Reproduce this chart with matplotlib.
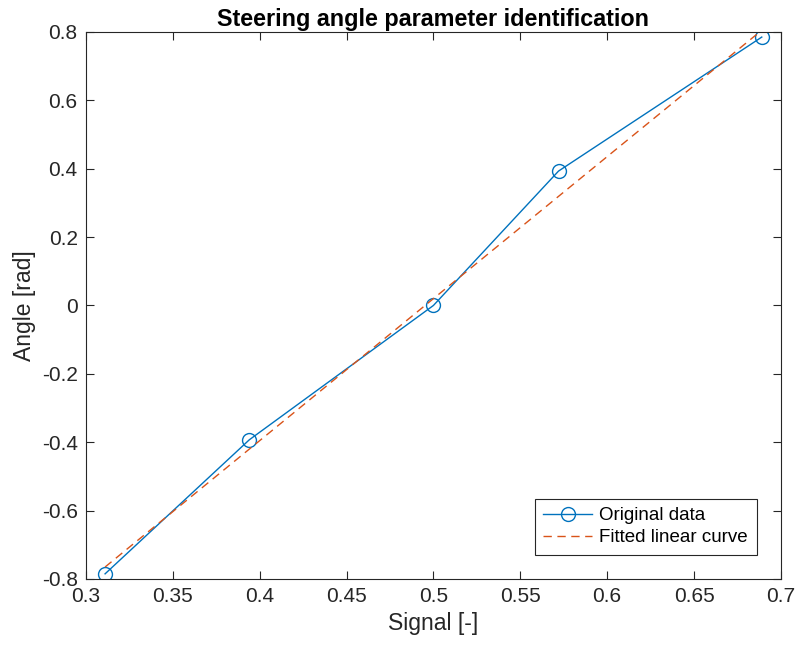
import matplotlib
matplotlib.use("Agg")
from matplotlib import pyplot as plt

signal = [0.311, 0.394, 0.5, 0.572, 0.689]
angle = [-0.785, -0.393, 0.0, 0.393, 0.785]

fit_x = [0.311, 0.689]
fit_y = [-0.765, 0.805]

xticks = [0.3, 0.35, 0.4, 0.45, 0.5, 0.55, 0.6, 0.65, 0.7]
yticks = [-0.8, -0.6, -0.4, -0.2, 0, 0.2, 0.4, 0.6, 0.8]

plt.rcParams['font.family'] = ['Liberation Sans', 'DejaVu Sans']
dark = '#262626'

fig = plt.figure(figsize=(7.96, 6.52), dpi=100)
ax = fig.add_axes([0.108, 0.112, 0.873, 0.839])

ax.plot(signal, angle, color='#0072BD', lw=1.0, marker='o', markersize=10,
        markerfacecolor='none', markeredgewidth=1.0, label='Original data')
ax.plot(fit_x, fit_y, color='#D95319', lw=1.0, ls=(0, (6, 4)),
        label='Fitted linear curve')

ax.set_xlim(0.3, 0.7)
ax.set_ylim(-0.8, 0.8)
ax.set_xticks(xticks)
ax.set_xticklabels(['%g' % t for t in xticks])
ax.set_yticks(yticks)
ax.set_yticklabels(['%g' % t for t in yticks])

ax.tick_params(direction='in', length=6, width=0.8, top=True, right=True,
               labelsize=15, colors=dark, pad=6)
for s in ax.spines.values():
    s.set_color(dark)
    s.set_linewidth(0.8)

ax.set_xlabel('Signal [-]', fontsize=16.5, color=dark)
ax.set_ylabel('Angle [rad]', fontsize=16.5, color=dark)
ax.set_title('Steering angle parameter identification', fontsize=16.8,
             fontweight='bold', pad=4)

leg = ax.legend(loc='lower right', fontsize=13.5, fancybox=False,
                framealpha=1, edgecolor=dark, borderaxespad=1.3,
                handlelength=2.6, handletextpad=0.4, borderpad=0.45,
                labelspacing=0.25)
leg.get_frame().set_linewidth(0.8)

fig.savefig('out.png', dpi=100)
